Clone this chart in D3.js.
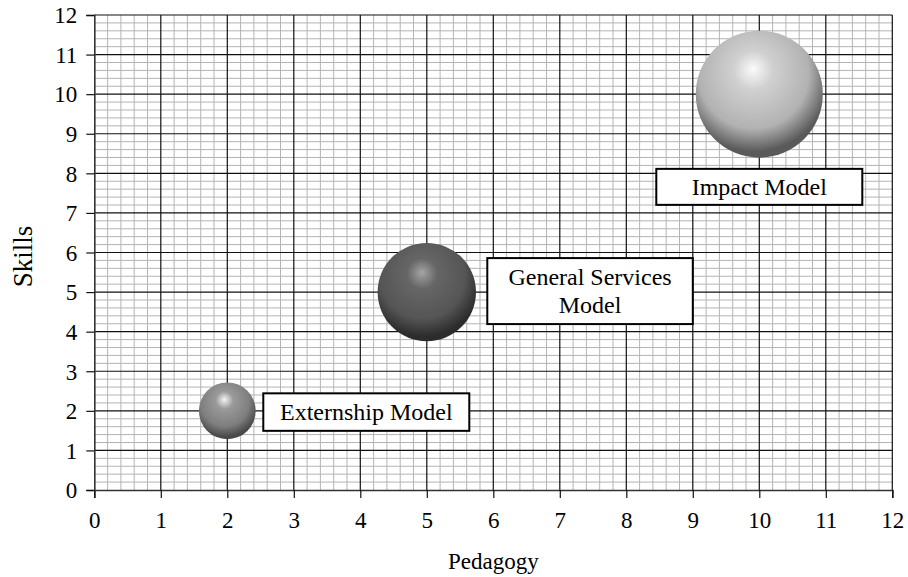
<!DOCTYPE html>
<html>
<head>
<meta charset="utf-8">
<script src="https://cdn.jsdelivr.net/npm/d3@7"></script>
<style>
  html, body { margin: 0; padding: 0; background: #fff; }
  svg { display: block; }
</style>
</head>
<body>
<svg id="chart" width="908" height="577"></svg>
<script>
// ---- data ----
const models = ["Externship Model", "General Services Model", "Impact Model"];
const labelLines = [["Externship Model"], ["General Services", "Model"], ["Impact Model"]];
const pedagogy = [2, 5, 10];
const skills = [2, 5, 10];
const bubbleSize = [1, 3, 5];
const xTicks = [0,1,2,3,4,5,6,7,8,9,10,11,12];
const yTicks = [0,1,2,3,4,5,6,7,8,9,10,11,12];
const xTitle = "Pedagogy";
const yTitle = "Skills";

// ---- styles ----
const FONT = '"Liberation Serif", Tinos, "Times New Roman", Times, "Nimbus Roman", "DejaVu Serif", serif';
const sphereColors = [
  { hi: "#f4f4f4", mid: "#9a9a9a", base: "#7e7e7e", edge: "#4a4a4a" },
  { hi: "#a4a4a4", mid: "#666666", base: "#555555", edge: "#2c2c2c" },
  { hi: "#fbfbfb", mid: "#d0d0d0", base: "#b2b2b2", edge: "#5a5a5a" }
];
const labelLayout = [
  { dx: 36, dy: -17.5, w: 206, h: 37.5 },
  { dx: 60.5, dy: -34, w: 205.5, h: 66 },
  { dx: -103, dy: 74.7, w: 206, h: 36 }
];

const W = 908, H = 577;
const margin = { top: 15, right: 15.7, bottom: 87, left: 94.3 };
const svg = d3.select("#chart").attr("font-family", FONT);

const x = d3.scaleLinear().domain([0, 12]).range([margin.left, W - margin.right]);
const y = d3.scaleLinear().domain([0, 12]).range([H - margin.bottom, margin.top]);
const r = d3.scaleSqrt().domain([0, 5]).range([0, 63.5]);

const defs = svg.append("defs");
sphereColors.forEach((c, i) => {
  const g = defs.append("radialGradient").attr("id", "sph" + i)
    .attr("cx", 0.46).attr("cy", 0.36).attr("r", 0.7)
    .attr("fx", 0.45).attr("fy", 0.3);
  g.append("stop").attr("offset", 0).attr("stop-color", c.hi);
  g.append("stop").attr("offset", 0.22).attr("stop-color", c.mid);
  g.append("stop").attr("offset", 0.62).attr("stop-color", c.base);
  g.append("stop").attr("offset", 0.86).attr("stop-color", c.edge);
  g.append("stop").attr("offset", 1).attr("stop-color", c.edge);
});

const minor = d3.range(0, 12.0001, 0.2).map(v => +v.toFixed(1)).filter(v => Math.abs(v - Math.round(v)) > 1e-6);
const grid = svg.append("g");
grid.selectAll("line.mx").data(minor).join("line")
  .attr("x1", d => x(d)).attr("x2", d => x(d))
  .attr("y1", y(0)).attr("y2", y(12))
  .attr("stroke", "#b4b4b4").attr("stroke-width", 1);
grid.selectAll("line.my").data(minor).join("line")
  .attr("y1", d => y(d)).attr("y2", d => y(d))
  .attr("x1", x(0)).attr("x2", x(12))
  .attr("stroke", "#b4b4b4").attr("stroke-width", 1);
grid.selectAll("line.Mx").data(xTicks.slice(1)).join("line")
  .attr("x1", d => x(d)).attr("x2", d => x(d))
  .attr("y1", y(0)).attr("y2", y(12))
  .attr("stroke", "#111").attr("stroke-width", 1.2);
grid.selectAll("line.My").data(yTicks.slice(1)).join("line")
  .attr("y1", d => y(d)).attr("y2", d => y(d))
  .attr("x1", x(0)).attr("x2", x(12))
  .attr("stroke", "#111").attr("stroke-width", 1.2);

const xAxis = svg.append("g").attr("transform", `translate(0,${y(0)})`)
  .call(d3.axisBottom(x).tickValues(xTicks).tickFormat(d3.format("d")).tickSize(8).tickPadding(14));
const yAxis = svg.append("g").attr("transform", `translate(${x(0)},0)`)
  .call(d3.axisLeft(y).tickValues(yTicks).tickFormat(d3.format("d")).tickSize(8).tickPadding(9));
[xAxis, yAxis].forEach(a => {
  a.attr("font-family", FONT).attr("font-size", 23);
  a.select(".domain").attr("stroke", "#333").attr("stroke-width", 1.6);
  a.selectAll(".tick line").attr("stroke", "#111").attr("stroke-width", 1.2);
  a.selectAll(".tick text").attr("fill", "#000");
});
yAxis.selectAll(".tick text").attr("dy", "0.34em");

const idx = d3.range(models.length);
svg.append("g").selectAll("circle").data(idx).join("circle")
  .attr("cx", i => x(pedagogy[i])).attr("cy", i => y(skills[i]))
  .attr("r", i => r(bubbleSize[i]))
  .attr("fill", i => `url(#sph${i})`);

const lab = svg.append("g").selectAll("g").data(idx).join("g")
  .attr("transform", i => `translate(${x(pedagogy[i]) + labelLayout[i].dx},${y(skills[i]) + labelLayout[i].dy})`);
lab.append("rect")
  .attr("width", i => labelLayout[i].w).attr("height", i => labelLayout[i].h)
  .attr("fill", "#fff").attr("stroke", "#000").attr("stroke-width", 2);
lab.each(function(i) {
  const g = d3.select(this);
  const L = labelLines[i];
  const lh = 27.6;
  const h = labelLayout[i].h;
  L.forEach((t, k) => {
    g.append("text")
      .attr("x", labelLayout[i].w / 2)
      .attr("y", h / 2 + (k - (L.length - 1) / 2) * lh)
      .attr("dy", "0.34em")
      .attr("text-anchor", "middle")
      .attr("font-size", 24)
      .text(t);
  });
});

svg.append("text").attr("x", (x(0) + x(12)) / 2).attr("y", 569)
  .attr("text-anchor", "middle").attr("font-size", 23).text(xTitle);
svg.append("text").attr("transform", `translate(32,${(y(0) + y(12)) / 2 + 4}) rotate(-90)`)
  .attr("text-anchor", "middle").attr("font-size", 27).text(yTitle);
</script>
</body>
</html>
